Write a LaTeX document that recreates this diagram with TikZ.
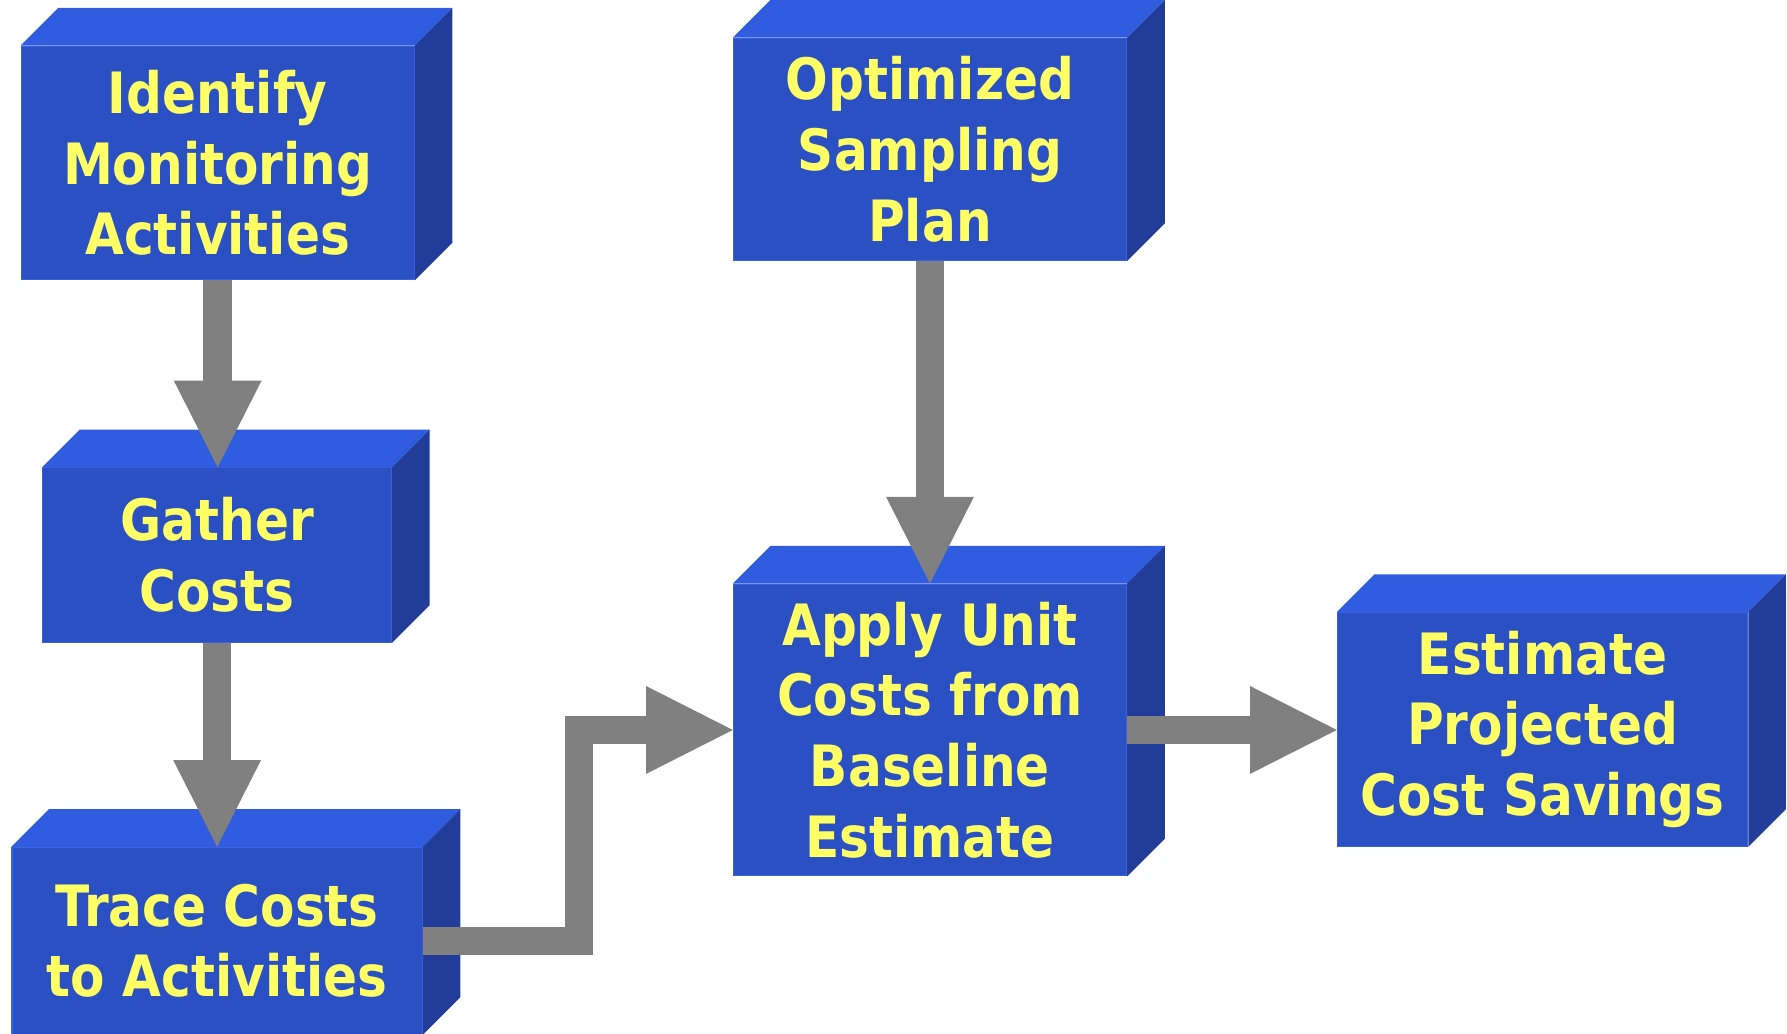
\documentclass[tikz,border=0pt]{standalone}
\usepackage{fontspec}
\setmainfont{DejaVu Sans}[FakeStretch=0.88]
\usetikzlibrary{calc,arrows.meta}
\definecolor{frontc}{HTML}{2A50C4}
\definecolor{edgec}{HTML}{3A62DC}
\definecolor{topc}{HTML}{305CE0}
\definecolor{sidec}{HTML}{213D99}
\definecolor{txtc}{HTML}{FFFF66}
\definecolor{arrc}{HTML}{808080}
\tikzset{
  box/.style={fill=frontc, draw=edgec, line width=1pt, text=txtc,
    font=\fontsize{50}{62}\selectfont\bfseries, align=center,
    inner sep=0pt, anchor=north west},
  flow/.style={draw=arrc, line width=25pt, line join=miter,
    -{Triangle[width=77pt,length=76pt,line width'=0pt]}},
}
\newcommand{\boxsides}[1]{%
  \fill[topc] (#1.north west) -- ++(33,-33) -- ($(#1.north east)+(33,-33)$) -- (#1.north east) -- cycle;
  \fill[sidec] (#1.north east) -- ++(33,-33) -- ($(#1.south east)+(33,-33)$) -- (#1.south east) -- cycle;
}
\begin{document}
\begin{tikzpicture}[x=1pt,y=-1pt]
\useasboundingbox (0,0) rectangle (1568,907);
\node[box, minimum width=345pt, minimum height=205pt] (A) at (18,40) {Identify\\Monitoring\\Activities};
\node[box, minimum width=306pt, minimum height=153pt] (B) at (37,410) {Gather\\Costs};
\node[box, minimum width=360pt, minimum height=164pt] (C) at (10,743) {Trace Costs\\to Activities};
\node[box, minimum width=345pt, minimum height=195pt] (D) at (643,33) {Optimized\\Sampling\\Plan};
\node[box, minimum width=345pt, minimum height=256pt] (E) at (643,512) {Apply Unit\\Costs from\\Baseline\\Estimate};
\node[box, minimum width=360pt, minimum height=205pt] (F) at (1173,537) {Estimate\\Projected\\Cost Savings};
\boxsides{A}
\boxsides{B}
\boxsides{C}
\boxsides{D}
\boxsides{E}
\boxsides{F}
\draw[flow] (A.south) -- (A.south |- B.north);
\draw[flow] (B.south) -- (B.south |- C.north);
\draw[flow] (D.south) -- (D.south |- E.north);
\draw[flow] (C.east) -- ++(137,0) |- (E.west);
\draw[flow] (E.east) -- (E.east -| F.west);
\end{tikzpicture}
\end{document}
